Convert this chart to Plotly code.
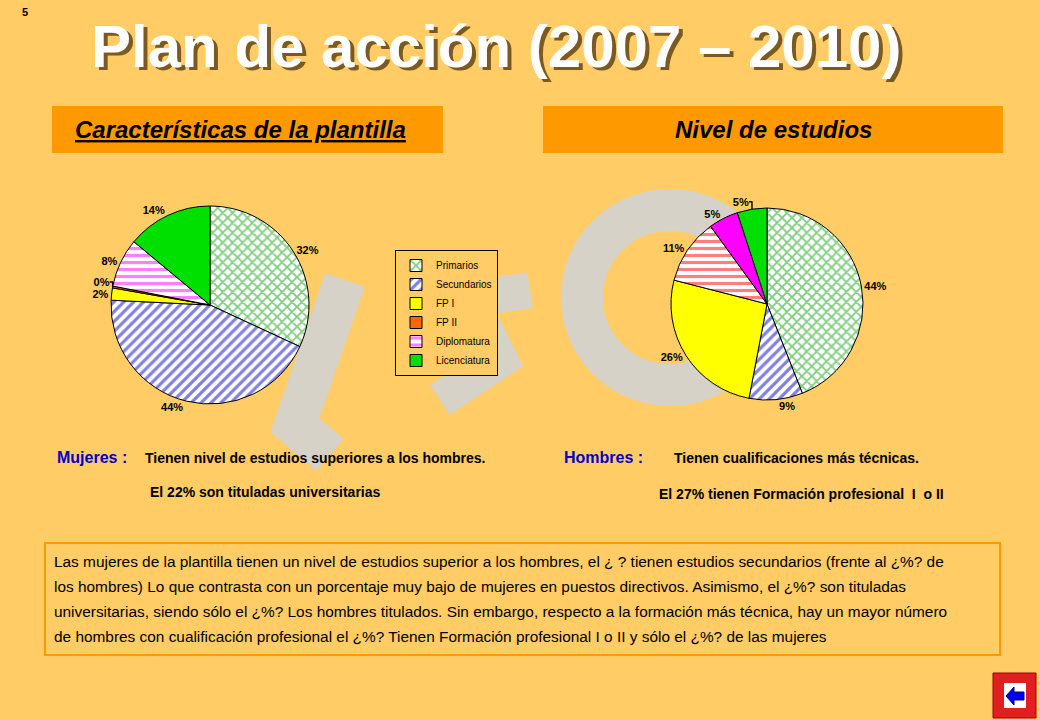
import plotly.graph_objects as go

categories = ["Primarios", "Secundarios", "FP I", "FP II", "Diplomatura", "Licenciatura"]
mujeres = [32, 44, 2, 0.3, 8, 14]
mujeres_labels = ["32%", "44%", "2%", "0%", "8%", "14%"]
hombres = [44, 9, 26, 11, 5, 5]
hombres_labels = ["44%", "9%", "26%", "11%", "5%", "5%"]

W, H = 1040, 720
BG = "#FFCC66"
fig = go.Figure()

fig.add_trace(go.Pie(
    labels=categories, values=mujeres, text=mujeres_labels, textinfo="text",
    textposition="outside", sort=False, direction="clockwise", rotation=0,
    domain=dict(x=[110/W, 310/W], y=[1-404/H, 1-206/H]),
    marker=dict(colors=["white", "white", "#FFFF00", "#FF6600", "white", "#00E000"],
                line=dict(color="black", width=1),
                pattern=dict(shape=["x", "/", "", "", "-", ""],
                             fgcolor=["#009900", "#0000CC", "#FFFF00", "#FF6600", "#FF00FF", "#00E000"],
                             bgcolor=["white", "white", "#FFFF00", "#FF6600", "white", "#00E000"],
                             fillmode="overlay", size=7, solidity=0.45)),
    textfont=dict(size=11, color="black", family="Liberation Sans"),
    texttemplate="<b>%{text}</b>",
    showlegend=True, hoverinfo="skip"))

fig.add_trace(go.Pie(
    labels=categories, values=hombres, text=hombres_labels, textinfo="text",
    textposition="outside", sort=False, direction="clockwise", rotation=0,
    domain=dict(x=[668/W, 866/W], y=[1-400/H, 1-208/H]),
    marker=dict(colors=["white", "white", "#FFFF00", "white", "#FF00FF", "#00E000"],
                line=dict(color="black", width=1),
                pattern=dict(shape=["x", "/", "", "-", "", ""],
                             fgcolor=["#009900", "#0000CC", "#FFFF00", "#FF0000", "#FF00FF", "#00E000"],
                             bgcolor=["white", "white", "#FFFF00", "white", "#FF00FF", "#00E000"],
                             fillmode="overlay", size=7, solidity=0.45)),
    textfont=dict(size=11, color="black", family="Liberation Sans"),
    texttemplate="<b>%{text}</b>",
    showlegend=False, hoverinfo="skip"))

def px(x): return x / W
def py(y): return 1 - y / H

shapes = []
gray = "#D6D2C8"
shapes.append(dict(type="path", xref="paper", yref="paper", layer="below",
                   path=f"M {px(345)} {py(280)} L {px(295)} {py(425)} L {px(330)} {py(455)}",
                   line=dict(color=gray, width=42)))
shapes.append(dict(type="path", xref="paper", yref="paper", layer="below",
                   path=f"M {px(530)} {py(290)} L {px(470)} {py(300)} L {px(500)} {py(360)} L {px(440)} {py(400)}",
                   line=dict(color=gray, width=36)))
shapes.append(dict(type="circle", xref="paper", yref="paper", layer="below",
                   x0=px(582), x1=px(758), y0=py(385), y1=py(210),
                   line=dict(color=gray, width=42)))
shapes.append(dict(type="rect", xref="paper", yref="paper", layer="below",
                   x0=px(52), x1=px(443), y0=py(153), y1=py(106), fillcolor="#FF9900", line=dict(width=0)))
shapes.append(dict(type="rect", xref="paper", yref="paper", layer="below",
                   x0=px(543), x1=px(1003), y0=py(153), y1=py(106), fillcolor="#FF9900", line=dict(width=0)))
shapes.append(dict(type="rect", xref="paper", yref="paper", layer="below",
                   x0=px(45), x1=px(1000), y0=py(655), y1=py(543), line=dict(color="#FF9900", width=2)))
shapes.append(dict(type="rect", xref="paper", yref="paper",
                   x0=px(993), x1=px(1036), y0=py(718), y1=py(673), fillcolor="#E02020", line=dict(color="#A00000", width=1)))
shapes.append(dict(type="rect", xref="paper", yref="paper",
                   x0=px(1004), x1=px(1026), y0=py(708), y1=py(683), fillcolor="white", line=dict(width=0)))
shapes.append(dict(type="path", xref="paper", yref="paper",
                   path=(f"M {px(1006)} {py(696)} L {px(1014)} {py(687)} L {px(1014)} {py(692)} "
                         f"L {px(1024)} {py(692)} L {px(1024)} {py(700)} L {px(1014)} {py(700)} "
                         f"L {px(1014)} {py(705)} Z"),
                   fillcolor="#0000FF", line=dict(color="#000080", width=1)))

ann = []
def t(x, y, s, size, color="black", bold=True, italic=False, family="Liberation Sans", xa="left"):
    if bold: s = f"<b>{s}</b>"
    if italic: s = f"<i>{s}</i>"
    ann.append(dict(x=px(x), y=py(y), xref="paper", yref="paper", text=s, showarrow=False,
                    xanchor=xa, yanchor="middle", font=dict(size=size, color=color, family=family)))

t(20, 12, "5", 11)
t(500, 50, "Plan de acción (2007 – 2010)", 60, color="#7A5A20", xa="center")
t(496, 46, "Plan de acción (2007 – 2010)", 60, color="white", xa="center")
t(240, 129, "<u>Características de la plantilla</u>", 24, italic=True, xa="center")
t(773, 129, "Nivel de estudios", 24, italic=True, xa="center")
t(55, 457, "Mujeres :", 16, color="#0000CC")
t(143, 458, "Tienen nivel de estudios superiores a los hombres.", 14)
t(148, 492, "El 22% son tituladas universitarias", 14)
t(562, 457, "Hombres :", 16, color="#0000CC")
t(672, 458, "Tienen cualificaciones más técnicas.", 14)
t(657, 494, "El 27% tienen Formación profesional  I  o II", 14)
lines = ["Las mujeres de la plantilla tienen un nivel de estudios superior a los hombres, el ¿ ? tienen estudios secundarios (frente al ¿%? de",
         "los hombres) Lo que contrasta con un porcentaje muy bajo de mujeres en puestos directivos. Asimismo, el ¿%? son tituladas",
         "universitarias, siendo sólo el ¿%? Los hombres titulados. Sin embargo, respecto a la formación más técnica, hay un mayor número",
         "de hombres con cualificación profesional el ¿%? Tienen Formación profesional I o II y sólo el ¿%? de las mujeres"]
for i, ln in enumerate(lines):
    t(52, 561 + 25 * i, ln, 15.4, bold=False)

fig.update_layout(
    width=W, height=H, margin=dict(l=0, r=0, t=0, b=0),
    paper_bgcolor=BG, plot_bgcolor=BG,
    shapes=shapes, annotations=ann,
    legend=dict(x=px(395), y=py(250), xanchor="left", yanchor="top",
                bgcolor=BG, bordercolor="black", borderwidth=1,
                font=dict(size=10, family="Liberation Sans", color="black"),
                itemwidth=30, tracegroupgap=0),
)
fig.write_html("out.html", config={"displayModeBar": False})
with open("out.html", encoding="utf-8") as f:
    html = f.read()
html = html.replace("<body>", '<body style="margin:0;padding:0;background:#FFCC66">', 1)
with open("out.html", "w", encoding="utf-8") as f:
    f.write(html)
